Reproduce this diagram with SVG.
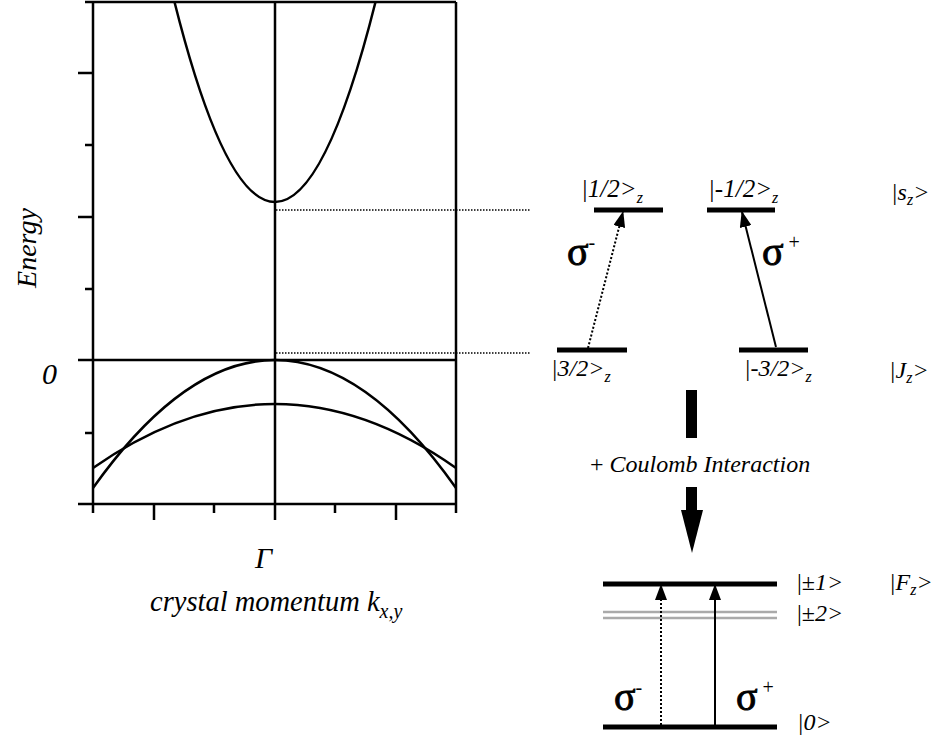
<svg xmlns="http://www.w3.org/2000/svg" width="935" height="739" viewBox="0 0 935 739">
<style>
  .ax{stroke:#000;stroke-width:2.5;fill:none}
  .cv{stroke:#000;stroke-width:2.5;fill:none}
  .dot{stroke:#000;stroke-width:1.6;stroke-dasharray:1.5,1.5;fill:none}
  .lvl{stroke:#000;stroke-width:5}
  .gl{stroke:#aaa;stroke-width:2.5}
  .t{font-family:'Liberation Serif','Times New Roman',serif;font-style:italic;fill:#000}
  .s{font-family:'Liberation Serif','Times New Roman',serif;fill:#000;stroke:#000;stroke-width:0.9}
  .tr{stroke:#000;stroke-width:2;fill:none}
  .trd{stroke:#000;stroke-width:2;stroke-dasharray:2,2;fill:none}
</style>
<defs>
  <marker id="ah" markerUnits="userSpaceOnUse" markerWidth="16" markerHeight="12" refX="15" refY="6" orient="auto">
    <path d="M0,0 L16,6 L0,12 Z" fill="#000"/>
  </marker>
</defs>
<rect width="935" height="739" fill="#fff"/>

<g id="plot">
  <path class="ax" d="M85,2 H456 M93,2 V513 M456,2 V513 M275,2 V520 M78,360 H456 M78,504 H456"/>
  <path class="ax" d="M78,73 H93 M85,145 H93 M78,217 H93 M85,289 H93 M85,433 H93"/>
  <path class="ax" d="M154,504 V520 M214,504 V513 M335,504 V513 M396,504 V520"/>
  <path class="cv" d="M174.5,2 Q275,402 375.5,2"/>
  <path class="cv" d="M93,488 Q275,232 456,488"/>
  <path class="cv" d="M93,468 Q275,340 456,468"/>
  <line class="dot" x1="276" y1="210" x2="530" y2="210"/>
  <line class="dot" x1="276" y1="353" x2="530" y2="353"/>
  <text class="t" font-size="28" transform="translate(36,248) rotate(-90)" text-anchor="middle">Energy</text>
  <text class="t" font-size="30" x="42" y="384">0</text>
  <text class="t" font-size="30" x="255" y="568">Γ</text>
  <text class="t" font-size="28.5" x="150" y="611">crystal momentum k<tspan font-size="20" dy="7">x,y</tspan></text>
</g>

<g id="upper-levels">
  <line class="lvl" x1="594" y1="210" x2="663" y2="210"/>
  <line class="lvl" x1="707" y1="210" x2="775" y2="210"/>
  <text class="t" font-size="25" x="581" y="197">|1/2&gt;<tspan font-size="16" dy="6">z</tspan></text>
  <text class="t" font-size="25" x="708" y="197">|-1/2&gt;<tspan font-size="16" dy="6">z</tspan></text>
  <text class="t" font-size="24" x="891" y="200">|s<tspan font-size="16" dy="5">z</tspan><tspan dy="-5">&gt;</tspan></text>
</g>

<g id="lower-levels">
  <line class="lvl" x1="557" y1="350" x2="627" y2="350"/>
  <line class="lvl" x1="739" y1="350" x2="808" y2="350"/>
  <text class="t" font-size="24" x="551" y="376">|3/2&gt;<tspan font-size="16" dy="6">z</tspan></text>
  <text class="t" font-size="24" x="744" y="376">|-3/2&gt;<tspan font-size="16" dy="6">z</tspan></text>
  <text class="t" font-size="24" x="889" y="378">|J<tspan font-size="16" dy="5">z</tspan><tspan dy="-5">&gt;</tspan></text>
</g>

<g id="coulomb">
  <rect x="686" y="390" width="11" height="48" fill="#000"/>
  <text class="t" font-size="24" x="590" y="472"><tspan font-style="normal">+</tspan> Coulomb Interaction</text>
  <rect x="686" y="487" width="11" height="25" fill="#000"/>
  <polygon points="681,510 703,510 692,553" fill="#000"/>
</g>

<g id="exciton-levels">
  <line class="lvl" x1="603" y1="584" x2="777" y2="584"/>
  <line class="gl" x1="603" y1="612" x2="777" y2="612"/>
  <line class="gl" x1="603" y1="618" x2="777" y2="618"/>
  <line class="lvl" x1="603" y1="727" x2="777" y2="727"/>
  <text class="t" font-size="24" x="797" y="590"><tspan font-style="normal">|±</tspan>1&gt;</text>
  <text class="t" font-size="24" x="797" y="621"><tspan font-style="normal">|±</tspan>2&gt;</text>
  <text class="t" font-size="24" x="797" y="730">|0&gt;</text>
  <text class="t" font-size="24" x="889" y="590">|F<tspan font-size="16" dy="5">z</tspan><tspan dy="-5">&gt;</tspan></text>
</g>

<g id="connectors">
  <line class="trd" x1="588" y1="348" x2="623" y2="212" marker-end="url(#ah)"/>
  <line class="tr" x1="776" y1="347" x2="742" y2="212" marker-end="url(#ah)"/>
  <line class="trd" x1="661" y1="725" x2="661" y2="585" marker-end="url(#ah)"/>
  <line class="tr" x1="715" y1="725" x2="715" y2="585" marker-end="url(#ah)"/>
</g>

<g id="sigma-labels">
  <text class="s" font-size="40" x="567" y="265">σ<tspan font-size="20" stroke-width="0" dy="-16">-</tspan></text>
  <text class="s" font-size="40" x="762" y="265">σ<tspan font-size="20" stroke-width="0" dy="-16"> +</tspan></text>
  <text class="s" font-size="40" x="614" y="710">σ<tspan font-size="20" stroke-width="0" dy="-16">-</tspan></text>
  <text class="s" font-size="40" x="736" y="710">σ<tspan font-size="20" stroke-width="0" dy="-16"> +</tspan></text>
</g>
</svg>
